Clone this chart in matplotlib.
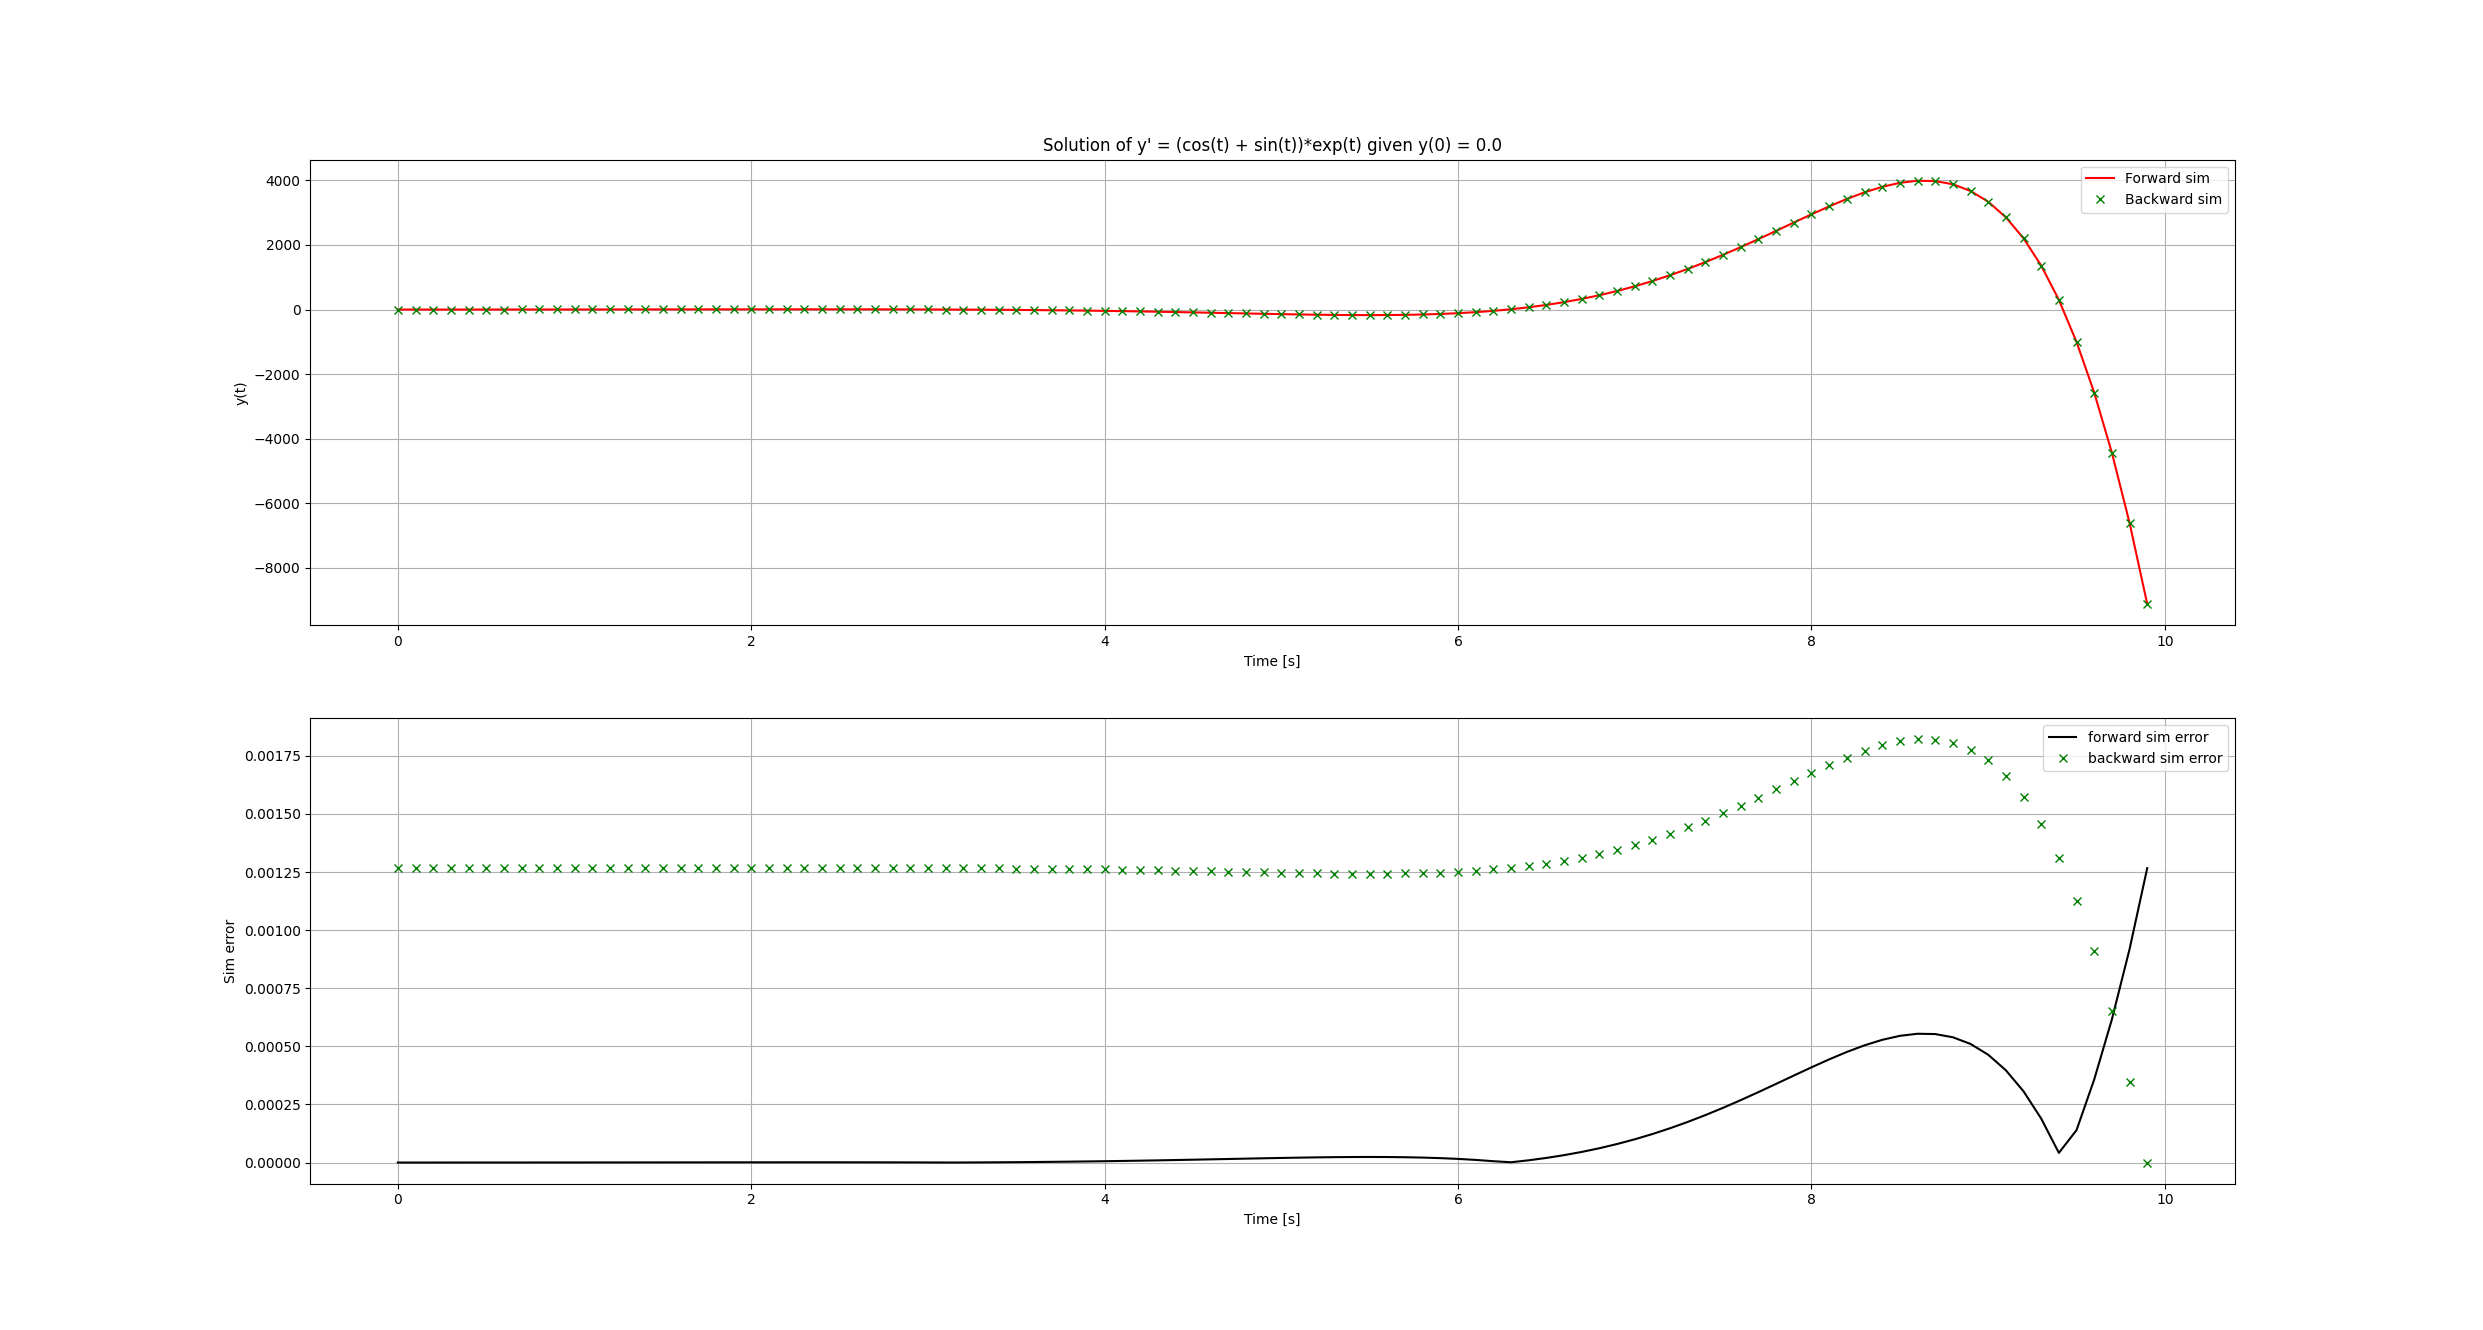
import matplotlib.pyplot as plt


time = [
    0.0, 0.1, 0.2, 0.3, 0.4, 0.5, 0.6, 0.7, 0.8, 0.9,
    1.0, 1.1, 1.2, 1.3, 1.4, 1.5, 1.6, 1.7, 1.8, 1.9,
    2.0, 2.1, 2.2, 2.3, 2.4, 2.5, 2.6, 2.7, 2.8, 2.9,
    3.0, 3.1, 3.2, 3.3, 3.4, 3.5, 3.6, 3.7, 3.8, 3.9,
    4.0, 4.1, 4.2, 4.3, 4.4, 4.5, 4.6, 4.7, 4.8, 4.9,
    5.0, 5.1, 5.2, 5.3, 5.4, 5.5, 5.6, 5.7, 5.8, 5.9,
    6.0, 6.1, 6.2, 6.3, 6.4, 6.5, 6.6, 6.7, 6.8, 6.9,
    7.0, 7.1, 7.2, 7.3, 7.4, 7.5, 7.6, 7.7, 7.8, 7.9,
    8.0, 8.1, 8.2, 8.3, 8.4, 8.5, 8.6, 8.7, 8.8, 8.9,
    9.0, 9.1, 9.2, 9.3, 9.4, 9.5, 9.6, 9.7, 9.8, 9.9,
]

# forward and backward sims overlap at this scale
y_sim = [
    0.0, 0.1, 0.2, 0.4, 0.6, 0.8, 1.0, 1.3, 1.6, 1.9,
    2.3, 2.7, 3.1, 3.5, 4.0, 4.5, 5.0, 5.4, 5.9, 6.3,
    6.7, 7.0, 7.3, 7.4, 7.4, 7.3, 6.9, 6.4, 5.5, 4.3,
    2.8, 0.9, -1.4, -4.3, -7.7, -11.6, -16.2, -21.4, -27.4, -34.0,
    -41.3, -49.4, -58.1, -67.5, -77.5, -88.0, -98.9, -109.9, -121.0, -131.9,
    -142.3, -151.9, -160.1, -166.7, -171.1, -172.6, -170.7, -164.6, -153.5, -136.5,
    -112.7, -81.2, -40.9, 9.2, 70.2, 143.1, 229.0, 328.9, 443.6, 574.0,
    720.5, 883.5, 1063.1, 1258.9, 1470.3, 1695.9, 1934.1, 2182.2, 2437.0, 2694.4,
    2949.2, 3195.3, 3425.2, 3630.2, 3800.5, 3924.4, 3989.0, 3979.8, 3880.5, 3673.5,
    3339.4, 2857.6, 2206.0, 1361.2, 299.6, -1004.0, -2574.0, -4434.5, -6609.0, -9118.9,
]

forward_error = [
    0.0, 1.53e-8, 3.37e-8, 5.54e-8, 8.07e-8, 1.10e-7, 1.43e-7, 1.80e-7, 2.22e-7, 2.68e-7,
    3.18e-7, 3.72e-7, 4.30e-7, 4.91e-7, 5.55e-7, 6.21e-7, 6.88e-7, 7.54e-7, 8.18e-7, 8.79e-7,
    9.33e-7, 9.79e-7, 1.01e-6, 1.03e-6, 1.03e-6, 1.01e-6, 9.64e-7, 8.83e-7, 7.65e-7, 6.04e-7,
    3.94e-7, 1.28e-7, 1.99e-7, 5.94e-7, 1.06e-6, 1.61e-6, 2.25e-6, 2.98e-6, 3.80e-6, 4.72e-6,
    5.74e-6, 6.86e-6, 8.07e-6, 9.38e-6, 1.077e-5, 1.222e-5, 1.373e-5, 1.527e-5, 1.681e-5, 1.833e-5,
    1.977e-5, 2.109e-5, 2.224e-5, 2.316e-5, 2.376e-5, 2.398e-5, 2.371e-5, 2.286e-5, 2.132e-5, 1.896e-5,
    1.566e-5, 1.128e-5, 5.69e-6, 1.27e-6, 9.74e-6, 1.987e-5, 3.181e-5, 4.568e-5, 6.162e-5, 7.972e-5,
    1.0007e-4, 1.2272e-4, 1.4766e-4, 1.7486e-4, 2.0422e-4, 2.3557e-4, 2.6865e-4, 3.0311e-4, 3.3851e-4, 3.7425e-4,
    4.0965e-4, 4.4382e-4, 4.7575e-4, 5.0424e-4, 5.2788e-4, 5.4510e-4, 5.5407e-4, 5.5279e-4, 5.3900e-4, 5.1025e-4,
    4.6385e-4, 3.9693e-4, 3.0641e-4, 1.8908e-4, 4.161e-5, 1.3945e-4, 3.5752e-4, 6.1595e-4, 9.1799e-4, 1.26662e-3,
]

backward_error = [
    1.2666e-3, 1.2666e-3, 1.2666e-3, 1.2667e-3, 1.2667e-3, 1.2667e-3, 1.2667e-3, 1.2668e-3, 1.2668e-3, 1.2669e-3,
    1.2669e-3, 1.2670e-3, 1.2670e-3, 1.2671e-3, 1.2672e-3, 1.2672e-3, 1.2673e-3, 1.2674e-3, 1.2674e-3, 1.2675e-3,
    1.2675e-3, 1.2676e-3, 1.2676e-3, 1.2676e-3, 1.2676e-3, 1.2676e-3, 1.2676e-3, 1.2675e-3, 1.2674e-3, 1.2672e-3,
    1.2670e-3, 1.2667e-3, 1.2664e-3, 1.2660e-3, 1.2655e-3, 1.2650e-3, 1.2644e-3, 1.2636e-3, 1.2628e-3, 1.2619e-3,
    1.2609e-3, 1.2597e-3, 1.2585e-3, 1.2572e-3, 1.2558e-3, 1.2544e-3, 1.2529e-3, 1.2513e-3, 1.2498e-3, 1.2483e-3,
    1.2468e-3, 1.2455e-3, 1.2444e-3, 1.2434e-3, 1.2428e-3, 1.2426e-3, 1.2429e-3, 1.2437e-3, 1.2453e-3, 1.2476e-3,
    1.2509e-3, 1.2553e-3, 1.2609e-3, 1.2679e-3, 1.2763e-3, 1.2865e-3, 1.2984e-3, 1.3123e-3, 1.3282e-3, 1.3463e-3,
    1.3667e-3, 1.3893e-3, 1.4143e-3, 1.4415e-3, 1.4708e-3, 1.5022e-3, 1.5353e-3, 1.5697e-3, 1.6051e-3, 1.6409e-3,
    1.6763e-3, 1.7104e-3, 1.7424e-3, 1.7708e-3, 1.7945e-3, 1.8117e-3, 1.8207e-3, 1.8194e-3, 1.8056e-3, 1.7769e-3,
    1.7305e-3, 1.6635e-3, 1.5730e-3, 1.4557e-3, 1.3082e-3, 1.1272e-3, 9.091e-4, 6.507e-4, 3.486e-4, 0.0,
]


fig, (ax1, ax2) = plt.subplots(2, 1, figsize=(24.83, 13.3), dpi=100)

ax1.plot(time, y_sim, "r", label="Forward sim")
ax1.plot(time, y_sim, "gx", label="Backward sim")
ax1.set_title("Solution of y' = (cos(t) + sin(t))*exp(t) given y(0) = 0.0")
ax1.set_xlabel("Time [s]")
ax1.set_ylabel("y(t)")
ax1.grid(True)
ax1.legend(loc="upper right")

ax2.plot(time, forward_error, "k", label="forward sim error")
ax2.plot(time, backward_error, "gx", label="backward sim error")
ax2.set_xlabel("Time [s]")
ax2.set_ylabel("Sim error")
ax2.grid(True)
ax2.legend(loc="upper right")

plt.savefig("out.png", dpi=100)
plt.close()
